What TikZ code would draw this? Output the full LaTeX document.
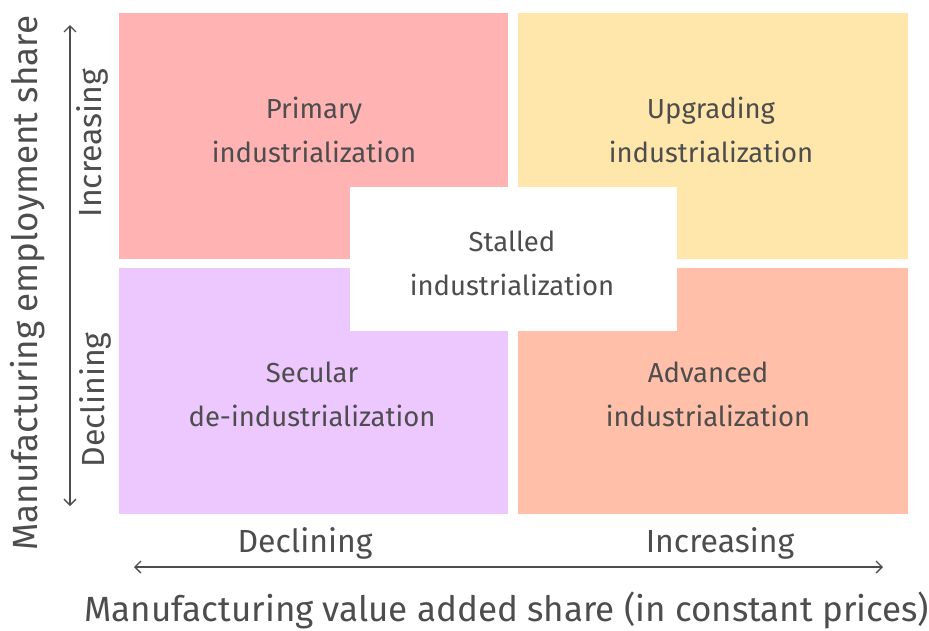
\documentclass[tikz,border=0pt]{standalone}
\usepackage{fontspec}
\setmainfont{Fira Sans}
\usetikzlibrary{arrows.meta}
\definecolor{txt}{HTML}{4D4D4D}
\definecolor{cred}{HTML}{FFB3B3}
\definecolor{cyel}{HTML}{FFE6AA}
\definecolor{cpur}{HTML}{ECC8FF}
\definecolor{cora}{HTML}{FFBFA8}
\begin{document}
\begin{tikzpicture}[x=1pt,y=-1pt,
  lbl/.style={text=txt,font=\fontsize{27.5}{44}\selectfont,align=center},
  axlbl/.style={text=txt,font=\fontsize{32}{36}\selectfont},
  ttl/.style={text=txt,font=\fontsize{35}{40}\selectfont},
  arr/.style={draw=txt,line width=1.3pt,{Straight Barb[length=6pt,width=12pt]}-{Straight Barb[length=6pt,width=12pt]}}]
\useasboundingbox (0,0) rectangle (929,630);
\fill[cred] (119,13) rectangle (508,259);
\fill[cyel] (518,13) rectangle (908,259);
\fill[cpur] (119,268) rectangle (508,514);
\fill[cora] (518,268) rectangle (908,514);
\fill[white] (350,187) rectangle (677,331);
\node[lbl] (pri) at (314,130) {Primary\\industrialization};
\node[lbl] (upg) at (711,130) {Upgrading\\industrialization};
\node[lbl] (sta) at (512,263) {Stalled\\industrialization};
\node[lbl] (sec) at (312,394) {Secular\\de-industrialization};
\node[lbl] (adv) at (708,394) {Advanced\\industrialization};
\coordinate (vt) at (70,25);
\coordinate (vb) at (70,506);
\draw[arr] (vt) -- (vb);
\coordinate (hl) at (134,567);
\coordinate (hr) at (883,567);
\draw[arr] (hl) -- (hr);
\node[axlbl,rotate=90] (vinc) at (92,143) {Increasing};
\node[axlbl,rotate=90] (vdec) at (95,400) {Declining};
\node[axlbl] (hdec) at (305,543) {Declining};
\node[axlbl] (hinc) at (720,543) {Increasing};
\node[ttl,rotate=90] (vt2) at (28,283) {Manufacturing employment share};
\node[ttl] (ht) at (507,610) {Manufacturing value added share (in constant prices)};
\end{tikzpicture}
\end{document}
